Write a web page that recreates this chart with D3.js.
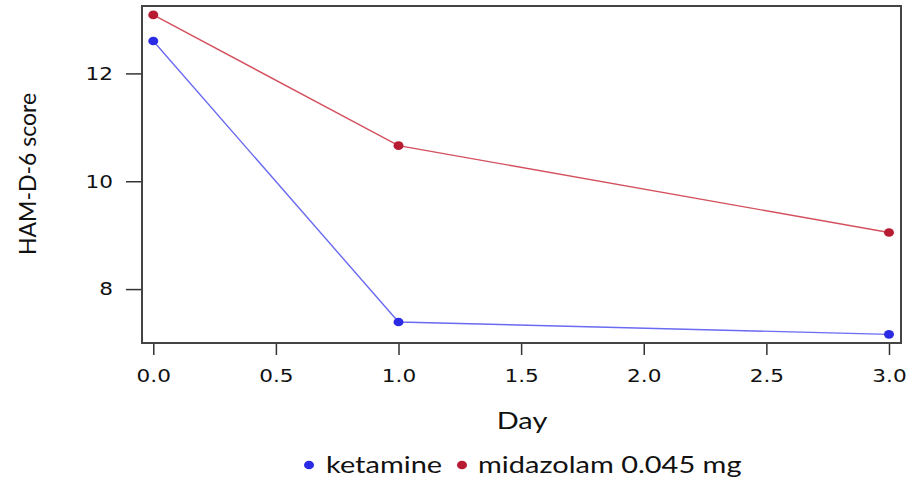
<!DOCTYPE html>
<html>
<head>
<meta charset="utf-8">
<script src="https://cdn.jsdelivr.net/npm/d3@7"></script>
<style>
  html, body { margin: 0; padding: 0; background: #fff; }
  svg { display: block; }
</style>
</head>
<body>
<svg id="chart" width="918" height="477"></svg>
<script>
// HAM-D-6 score over days for the two treatment arms
const days = [0, 1, 3];
const ketamine = [12.60, 7.39, 7.16];
const midazolam = [13.085, 10.66, 9.05];
const seriesNames = ["ketamine", "midazolam 0.045 mg"];
const seriesColors = ["#2b2be6", "#b81c32"];
const lineColors = ["#6a6af2", "#d4505e"];
const xTicks = [0, 0.5, 1, 1.5, 2, 2.5, 3];
const yTicks = [8, 10, 12];

const svg = d3.select("#chart");
const box = { left: 142, right: 901, top: 6, bottom: 343 };

const x = d3.scaleLinear().domain([-0.046, 3.049]).range([box.left, box.right]);
const y = d3.scaleLinear().domain([7.0, 13.25]).range([box.bottom, box.top]);

const tickFont = "DejaVu Sans, sans-serif";
const labelFont = "Lato, 'Open Sans', sans-serif";
const tickStretch = 1.2;   // glyphs are set a little wide
const labelStretch = 1.26;

// x axis below the frame
const xAxis = d3.axisBottom(x).tickValues(xTicks).tickFormat(d3.format(".1f"))
  .tickSize(12).tickPadding(14);
const gx = svg.append("g").attr("transform", `translate(0,${box.bottom})`).call(xAxis);
gx.select(".domain").remove();
gx.selectAll(".tick line").attr("stroke", "#333").attr("stroke-width", 1.5);
gx.selectAll(".tick text").attr("font-family", tickFont).attr("font-size", 18)
  .attr("fill", "#111").attr("transform", `scale(${tickStretch},1)`);

// y axis left of the frame
const yAxis = d3.axisLeft(y).tickValues(yTicks).tickFormat(d3.format("d"))
  .tickSize(16).tickPadding(12);
const gy = svg.append("g").attr("transform", `translate(${box.left},0)`).call(yAxis);
gy.select(".domain").remove();
gy.selectAll(".tick line").attr("stroke", "#333").attr("stroke-width", 1.5);
gy.selectAll(".tick text").attr("font-family", tickFont).attr("font-size", 18).attr("fill", "#111")
  .attr("x", -29 / tickStretch).attr("transform", `scale(${tickStretch},1)`);

// plot frame
svg.append("rect")
  .attr("x", box.left).attr("y", box.top)
  .attr("width", box.right - box.left).attr("height", box.bottom - box.top)
  .attr("fill", "none").attr("stroke", "#444").attr("stroke-width", 2);

// series lines and points
const line = d3.line().x((d, i) => x(days[i])).y(d => y(d));
[ketamine, midazolam].forEach((vals, s) => {
  svg.append("path").datum(vals).attr("d", line)
    .attr("fill", "none").attr("stroke", lineColors[s]).attr("stroke-width", 1.4);
  svg.selectAll(null).data(vals).enter().append("ellipse")
    .attr("cx", (d, i) => x(days[i])).attr("cy", d => y(d))
    .attr("rx", 5).attr("ry", 4.3).attr("fill", seriesColors[s]);
});

// axis titles
svg.append("text").attr("transform", `translate(522,429) scale(${labelStretch},1)`)
  .attr("text-anchor", "middle")
  .attr("font-family", labelFont).attr("font-size", 23).attr("fill", "#111").text("Day");
svg.append("text").attr("transform", "translate(36,174) rotate(-90)")
  .attr("text-anchor", "middle")
  .attr("font-family", labelFont).attr("font-size", 23).attr("fill", "#111").text("HAM-D-6 score");

// legend
const legendY = 465;
const legendItems = [{ dot: 309, text: 326 }, { dot: 462, text: 478 }];
seriesNames.forEach((name, s) => {
  svg.append("ellipse").attr("cx", legendItems[s].dot).attr("cy", legendY)
    .attr("rx", 5).attr("ry", 4.3).attr("fill", seriesColors[s]);
  svg.append("text")
    .attr("transform", `translate(${legendItems[s].text},${legendY + 8}) scale(${labelStretch},1)`)
    .attr("font-family", labelFont).attr("font-size", 23).attr("fill", "#111").text(name);
});
</script>
</body>
</html>
